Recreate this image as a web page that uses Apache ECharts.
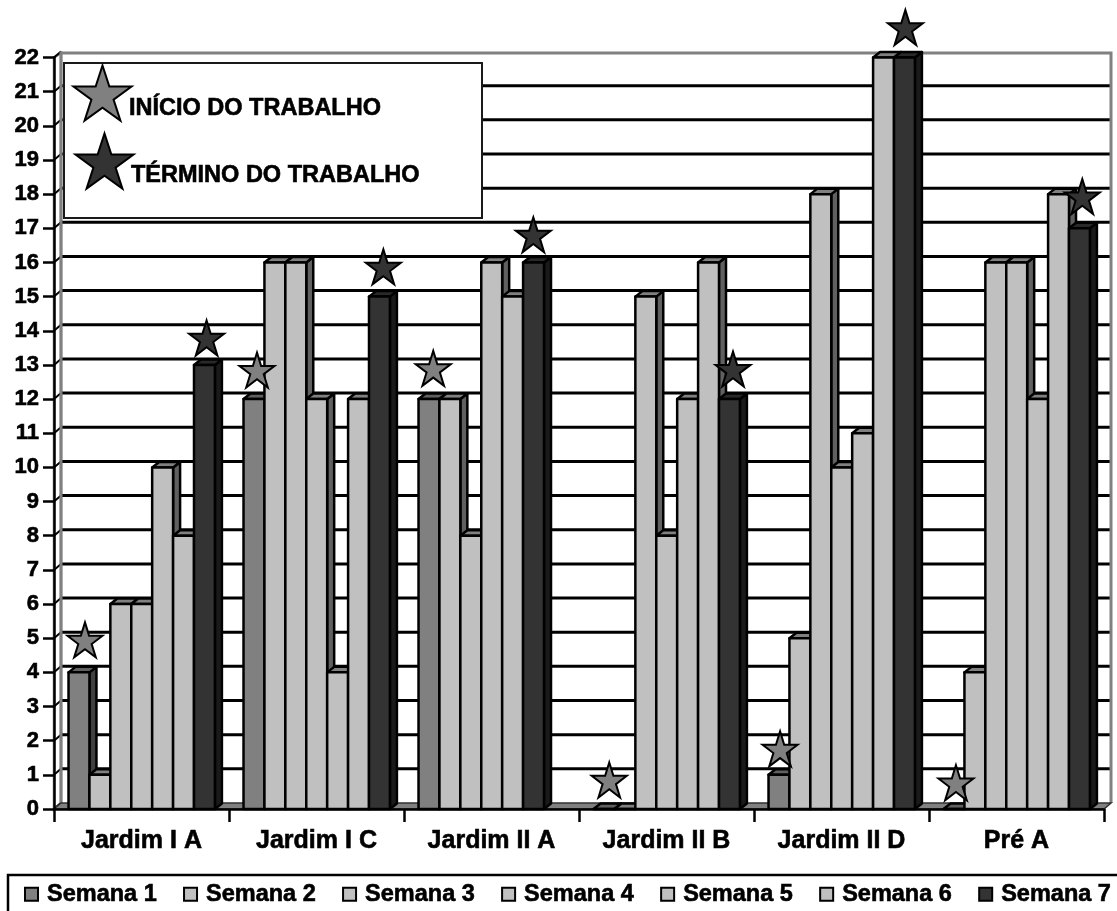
<!DOCTYPE html>
<html>
<head>
<meta charset="utf-8">
<style>
  html, body { margin: 0; padding: 0; background: #fff; }
  #chart { width: 1117px; height: 911px; }
</style>
<script src="https://cdn.jsdelivr.net/npm/echarts@6/dist/echarts.min.js"></script>
</head>
<body>
<div id="chart"></div>
<script>
// Turmas e semanas
const categories = ['Jardim I A', 'Jardim I C', 'Jardim II A', 'Jardim II B', 'Jardim II D', 'Pré A'];
const semana1 = [4, 12, 12, 0, 1, 0];
const semana2 = [1, 16, 12, 0, 5, 4];
const semana3 = [6, 16, 8, 15, 18, 16];
const semana4 = [6, 12, 16, 8, 10, 16];
const semana5 = [10, 4, 15, 12, 11, 12];
const semana6 = [8, 12, null, 16, 22, 18];
const semana7 = [13, 15, 16, 12, 22, 17];
const weekNames = ['Semana 1', 'Semana 2', 'Semana 3', 'Semana 4', 'Semana 5', 'Semana 6', 'Semana 7'];
const weekValues = [semana1, semana2, semana3, semana4, semana5, semana6, semana7];
const yTicks = [0, 1, 2, 3, 4, 5, 6, 7, 8, 9, 10, 11, 12, 13, 14, 15, 16, 17, 18, 19, 20, 21, 22];

// Estrelas: posição em unidades de turma (x) e de contagem (y)
const inicioX = [0.177, 1.16, 2.167, 3.173, 4.149, 5.154];
const inicioY = [4.95, 12.85, 12.9, 0.85, 1.76, 0.77];
const terminoX = [0.872, 1.882, 2.739, 3.88, 4.865, 5.876];
const terminoY = [13.79, 15.87, 16.81, 12.88, 22.88, 17.93];

const LABEL_FONT = '"Liberation Sans", Arial, sans-serif';
const DEPTH_X = 7;
const DEPTH_Y = 6;
const BAR_DEPTH_Y = 5.5;
const WALL_TOP_RISE = 4.5;
const BAND_PAD = 0.083;
const SLOT = 0.1195;

const LIGHT = { front: '#c0c0c0', side: '#606060', top: '#808080' };
const weekColors = [
  { front: '#808080', side: '#404040', top: '#606060' },
  LIGHT, LIGHT, LIGHT, LIGHT, LIGHT,
  { front: '#333333', side: '#1a1a1a', top: '#292929' }
];

// Contorno de uma estrela de cinco pontas, em SVG
function starPoints(cx, cy, r) {
  const pts = [];
  for (let i = 0; i < 10; i++) {
    const rad = i % 2 === 0 ? r : r * 0.382;
    const a = -Math.PI / 2 + i * Math.PI / 5;
    pts.push([cx + rad * Math.cos(a), cy + rad * Math.sin(a)]);
  }
  return pts;
}
const starPath = 'path://M' + starPoints(50, 50, 50).map(p => p[0].toFixed(2) + ' ' + p[1].toFixed(2)).join('L') + 'Z';

// Parede do fundo, piso e linhas de grade em perspectiva
function renderWall(params, api) {
  const cs = params.coordSys;
  const left = cs.x, right = cs.x + cs.width, bottom = cs.y + cs.height, top = cs.y;
  const wallTop = top - WALL_TOP_RISE;
  const children = [];
  children.push({
    type: 'polygon',
    shape: { points: [[left, bottom], [left, top], [left + DEPTH_X, wallTop], [left + DEPTH_X, bottom - DEPTH_Y]] },
    style: { fill: '#ffffff', stroke: '#808080', lineWidth: 2.5 }
  });
  yTicks.forEach(v => {
    const y = api.coord([0, v])[1];
    if (v > 0 && v < 22) {
      children.push({
        type: 'line',
        shape: { x1: left + DEPTH_X, y1: y - DEPTH_Y, x2: right + DEPTH_X - 1, y2: y - DEPTH_Y },
        style: { stroke: '#000000', lineWidth: 3 }
      });
    }
    children.push({
      type: 'line',
      shape: { x1: left, y1: y, x2: left + DEPTH_X, y2: y - DEPTH_Y },
      style: { stroke: '#000000', lineWidth: 2 }
    });
  });
  children.push({
    type: 'polyline',
    shape: { points: [[left + DEPTH_X, bottom - DEPTH_Y], [left + DEPTH_X, wallTop], [right + DEPTH_X, wallTop], [right + DEPTH_X, bottom - DEPTH_Y]] },
    style: { fill: 'none', stroke: '#808080', lineWidth: 3 }
  });
  children.push({
    type: 'polygon',
    shape: { points: [[left, bottom], [right, bottom], [right + DEPTH_X, bottom - DEPTH_Y], [left + DEPTH_X, bottom - DEPTH_Y]] },
    style: { fill: '#808080', stroke: '#303030', lineWidth: 1.5 }
  });
  return { type: 'group', children };
}

// Barra com frente, face superior e face lateral
function renderBar(params, api) {
  const value = api.value(1);
  if (isNaN(value)) return null;
  const cat = api.value(0);
  const week = params.seriesIndex - 1;
  const band = api.size([1, 0])[0];
  let slot = 0;
  for (let i = 0; i < week; i++) {
    if (weekValues[i][cat] !== null) slot++;
  }
  const x0 = api.coord([cat, 0])[0] - band / 2 + band * (BAND_PAD + slot * SLOT);
  const x1 = x0 + band * SLOT;
  const yBase = api.coord([cat, 0])[1];
  const yTop = api.coord([cat, value])[1];
  const c = weekColors[week];
  const edge = { stroke: '#000000', lineWidth: 2.5, lineJoin: 'round' };
  return {
    type: 'group',
    children: [
      {
        type: 'polygon',
        shape: { points: [[x1, yBase], [x1, yTop], [x1 + DEPTH_X, yTop - BAR_DEPTH_Y], [x1 + DEPTH_X, yBase - BAR_DEPTH_Y]] },
        style: Object.assign({ fill: c.side }, edge)
      },
      {
        type: 'polygon',
        shape: { points: [[x0, yTop], [x1, yTop], [x1 + DEPTH_X, yTop - BAR_DEPTH_Y], [x0 + DEPTH_X, yTop - BAR_DEPTH_Y]] },
        style: Object.assign({ fill: c.top }, edge)
      },
      {
        type: 'rect',
        shape: { x: x0, y: yTop, width: x1 - x0, height: yBase - yTop },
        style: Object.assign({ fill: c.front }, edge)
      }
    ]
  };
}

const chart = echarts.init(document.getElementById('chart'));

const barSeries = weekNames.map((name, w) => ({
  name,
  type: 'custom',
  renderItem: renderBar,
  xAxisIndex: 0,
  yAxisIndex: 0,
  z: 3,
  encode: { x: 0, y: 1 },
  itemStyle: { color: weekColors[w].front, borderColor: '#000000', borderWidth: 2.5 },
  data: weekValues[w].map((v, i) => [i, v === null ? '-' : v])
}));

function starSeries(name, xs, ys, color) {
  return {
    name,
    type: 'scatter',
    xAxisIndex: 1,
    yAxisIndex: 0,
    z: 6,
    clip: false,
    symbol: starPath,
    symbolSize: 35,
    itemStyle: { color, opacity: 1, borderColor: '#000000', borderWidth: 2 },
    data: xs.map((x, i) => [x, ys[i]])
  };
}

function legendStar(cx, cy, r, color) {
  return {
    type: 'polygon',
    z: 11,
    shape: { points: starPoints(cx, cy, r) },
    style: { fill: color, stroke: '#000000', lineWidth: 2 }
  };
}

function boxText(x, y, text) {
  return {
    type: 'text',
    z: 11,
    style: {
      x, y, text,
      fill: '#000000',
      stroke: '#000000',
      lineWidth: 0.6,
      font: 'bold 23.5px ' + LABEL_FONT,
      textVerticalAlign: 'middle'
    }
  };
}

const heavyText = { textBorderColor: '#000000', textBorderWidth: 0.6 };

chart.setOption({
  animation: false,
  backgroundColor: '#ffffff',
  textStyle: { fontFamily: LABEL_FONT },
  grid: { left: 54, right: 13, top: 57.5, bottom: 102 },
  xAxis: [
    {
      type: 'category',
      data: categories,
      z: 5,
      axisLine: { lineStyle: { color: '#000000', width: 2.5 } },
      axisTick: { show: true, length: 13, lineStyle: { color: '#000000', width: 2.5 } },
      axisLabel: Object.assign({ color: '#000000', fontFamily: LABEL_FONT, fontWeight: 'bold', fontSize: 25, margin: 20 }, heavyText)
    },
    { type: 'value', min: 0, max: 6, show: false }
  ],
  yAxis: {
    type: 'value',
    min: 0,
    max: 22,
    interval: 1,
    z: 5,
    axisLine: { show: true, lineStyle: { color: '#000000', width: 2.5 } },
    axisTick: { show: true, length: 11, lineStyle: { color: '#000000', width: 2.5 } },
    axisLabel: Object.assign({ color: '#000000', fontFamily: LABEL_FONT, fontWeight: 'bold', fontSize: 22, margin: 15 }, heavyText),
    splitLine: { show: false }
  },
  legend: {
    data: weekNames,
    left: 24,
    top: 882,
    width: 1400,
    padding: 0,
    icon: 'rect',
    itemWidth: 13,
    itemHeight: 13,
    itemGap: 26,
    selectedMode: false,
    textStyle: Object.assign({ color: '#000000', fontFamily: LABEL_FONT, fontWeight: 'bold', fontSize: 23.5, padding: [0, 0, 0, 4] }, heavyText)
  },
  graphic: [
    {
      type: 'rect',
      z: 10,
      shape: { x: 64, y: 63, width: 418, height: 155 },
      style: { fill: '#ffffff', stroke: '#1a1a1a', lineWidth: 2 }
    },
    legendStar(102.5, 96, 30.5, '#808080'),
    legendStar(104.5, 164, 30.5, '#333333'),
    boxText(129, 109, 'INÍCIO DO TRABALHO'),
    boxText(131, 176, 'TÉRMINO DO TRABALHO'),
    {
      type: 'rect',
      z: 1,
      shape: { x: 8, y: 875, width: 1200, height: 100 },
      style: { fill: '#ffffff', stroke: '#000000', lineWidth: 2.5 }
    }
  ],
  series: [
    {
      type: 'custom',
      renderItem: renderWall,
      xAxisIndex: 0,
      yAxisIndex: 0,
      z: 1,
      silent: true,
      legendHoverLink: false,
      data: [[0, 0]]
    }
  ].concat(barSeries, [
    starSeries('Início do trabalho', inicioX, inicioY, '#808080'),
    starSeries('Término do trabalho', terminoX, terminoY, '#333333')
  ])
});
</script>
</body>
</html>
